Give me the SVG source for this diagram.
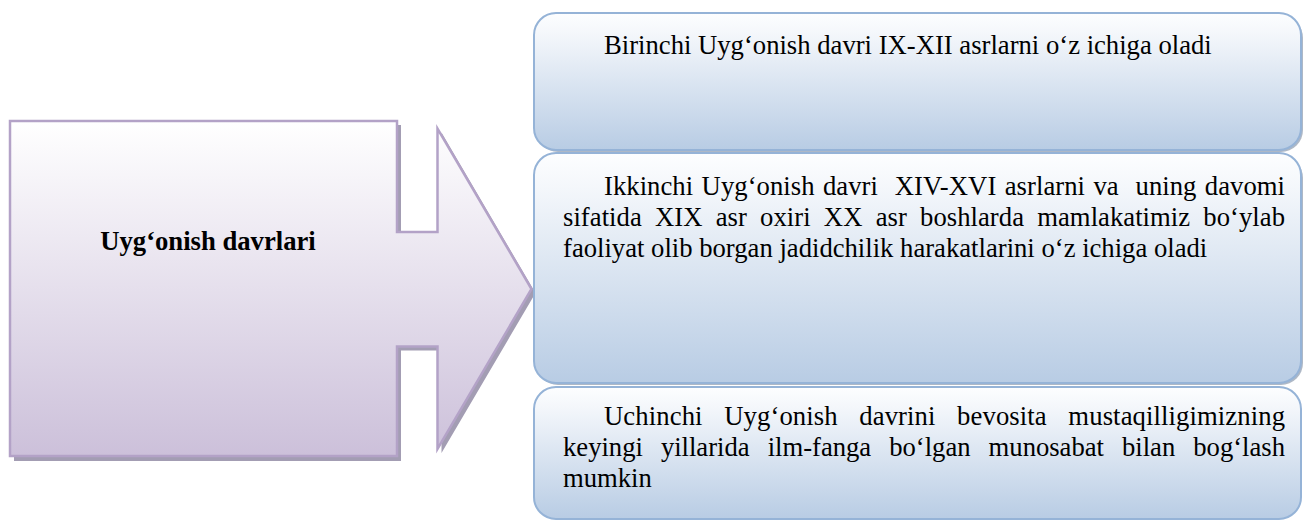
<svg xmlns="http://www.w3.org/2000/svg" width="1303" height="521" viewBox="0 0 1303 521">
<style>
.t{font-family:"Liberation Serif","Times New Roman","DejaVu Serif",serif;font-size:26.67px;fill:#000}
.b{font-weight:bold}
.box{fill:url(#gb);stroke:#95b3d7;stroke-width:2}
.bsh{fill:#9aa6b8;opacity:0.8}
</style>
<defs>
<linearGradient id="gb" x1="0" y1="0" x2="0" y2="1">
<stop offset="0" stop-color="#fdfeff"/>
<stop offset="0.15" stop-color="#f4f7fb"/>
<stop offset="1" stop-color="#b8cce4"/>
</linearGradient>
<linearGradient id="ga" x1="0" y1="0" x2="0" y2="1">
<stop offset="0" stop-color="#ffffff"/>
<stop offset="1" stop-color="#ccc0da"/>
</linearGradient>
</defs>
<g id="arrow">
<path d="M14,125 H401 V236 H441.5 V132.5 L535.5,293 L441.5,453 V350.5 H401 V461 H14 Z" fill="#a39db3"/>
<path d="M10,121 H397 V232 H437.5 V128.5 L531.5,289 L437.5,449 V346.5 H397 V456 H10 Z" fill="url(#ga)" stroke="#b3a2c7" stroke-width="2.5"/>
<text class="t b" x="208" y="250" text-anchor="middle">Uyg‘onish davrlari</text>
</g>
<g id="box1">
<rect class="bsh" x="536" y="16" width="767" height="136" rx="22"/>
<rect class="box" x="534" y="13" width="767" height="137" rx="22"/>
<text class="t" x="604" y="54">Birinchi Uyg‘onish davri IX-XII asrlarni o‘z ichiga oladi</text>
</g>
<g id="box2">
<rect class="bsh" x="536" y="156" width="767" height="229" rx="22"/>
<rect class="box" x="534" y="153" width="767" height="230" rx="22"/>
<text class="t" xml:space="preserve" x="604" y="195" textLength="681" lengthAdjust="spacing" style="word-spacing:1.7px">Ikkinchi Uyg‘onish davri  XIV-XVI asrlarni va  uning davomi</text>
<text class="t" x="563" y="226" textLength="722" lengthAdjust="spacing" style="word-spacing:6.5px">sifatida XIX asr oxiri XX asr boshlarda mamlakatimiz bo‘ylab</text>
<text class="t" x="563" y="257">faoliyat olib borgan jadidchilik harakatlarini o‘z ichiga oladi</text>
</g>
<g id="box3">
<rect class="box" x="534" y="387" width="767" height="132" rx="22"/>
<text class="t" x="604" y="425" textLength="681" lengthAdjust="spacing" style="word-spacing:14.8px">Uchinchi Uyg‘onish davrini bevosita mustaqilligimizning</text>
<text class="t" x="563" y="456" textLength="722" lengthAdjust="spacing" style="word-spacing:11.4px">keyingi yillarida ilm-fanga bo‘lgan munosabat bilan bog‘lash</text>
<text class="t" x="563" y="487">mumkin</text>
</g>
<g id="connectors"></g>
</svg>
